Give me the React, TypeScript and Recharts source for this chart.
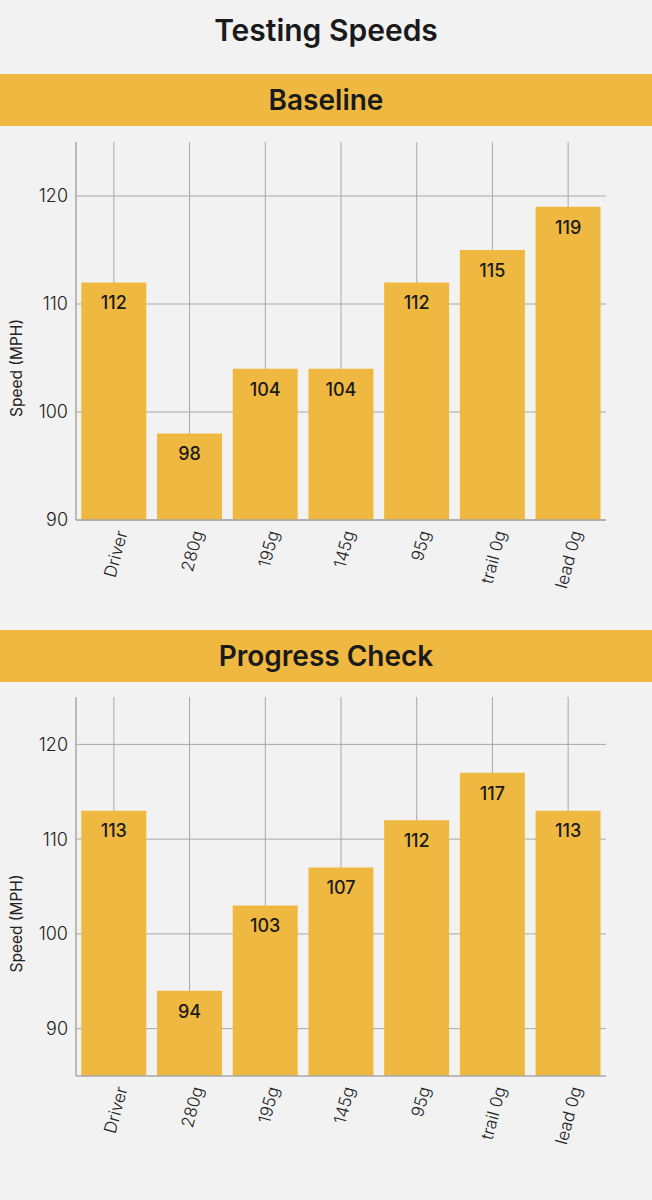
import React from 'react';
import { BarChart, Bar, XAxis, YAxis, CartesianGrid, LabelList } from 'recharts';

const categories = ['Driver', '280g', '195g', '145g', '95g', 'trail 0g', 'lead 0g'];
const baselineValues = [112, 98, 104, 104, 112, 115, 119];
const progressValues = [113, 94, 103, 107, 112, 117, 113];
const yTicks = [90, 100, 110, 120];

const BAR = '#EFB840';
const BG = '#F2F2F2';
const GRID = '#A8A8A8';
const FONT = 'Inter, "Noto Sans", sans-serif';

const baselineData = categories.map((c, i) => ({ name: c, value: baselineValues[i] }));
const progressData = categories.map((c, i) => ({ name: c, value: progressValues[i] }));

const XTick = (props: any) => {
  const { x, y, payload } = props;
  return (
    <g transform={`translate(${x + 8},${y + 3})`}>
      <text
        textAnchor="end"
        transform="rotate(-75)"
        dy="0.35em"
        fontFamily={FONT}
        fontSize={17}
        fontWeight={300}
        fill="#222"
      >
        {payload.value}
      </text>
    </g>
  );
};

const YLabel = (props: any) => {
  const { viewBox } = props;
  const cx = viewBox.x + 16;
  const cy = viewBox.y + viewBox.height / 2 + 37;
  return (
    <text
      x={cx}
      y={cy}
      transform={`rotate(-90, ${cx}, ${cy})`}
      textAnchor="middle"
      dominantBaseline="central"
      fontFamily={FONT}
      fontSize={15.5}
      fontWeight={400}
      fill="#222"
    >
      Speed (MPH)
    </text>
  );
};

const Band = ({ text }: { text: string }) => (
  <div
    style={{
      height: 52,
      background: BAR,
      textAlign: 'center',
      lineHeight: '52px',
      fontFamily: FONT,
      fontSize: 28,
      fontWeight: 600,
      color: '#1a1a1a',
    }}
  >
    {text}
  </div>
);

const SpeedChart = ({ data, domain, height, top, xHeight }: any) => (
  <BarChart
    width={652}
    height={height}
    data={data}
    margin={{ top, right: 46, bottom: 0, left: 0 }}
    barCategoryGap="7%"
  >
    <CartesianGrid stroke={GRID} strokeWidth={1} syncWithTicks />
    <XAxis
      dataKey="name"
      interval={0}
      tickLine={false}
      axisLine={{ stroke: GRID, strokeWidth: 1.5 }}
      height={xHeight}
      tick={<XTick />}
    />
    <YAxis
      width={76}
      domain={domain}
      ticks={yTicks}
      allowDataOverflow
      tickLine={false}
      axisLine={{ stroke: GRID, strokeWidth: 1.5 }}
      tick={{ fontFamily: FONT, fontSize: 18, fontWeight: 300, fill: '#222' }}
      label={<YLabel />}
    />
    <Bar dataKey="value" fill={BAR} isAnimationActive={false}>
      <LabelList
        dataKey="value"
        position="insideTop"
        offset={14}
        style={{ fontFamily: FONT, fontSize: 18, fontWeight: 500, fill: '#1a1a1a' }}
      />
    </Bar>
  </BarChart>
);

export default function App() {
  return (
    <div
      style={{
        position: 'absolute',
        left: 0,
        top: 0,
        width: 652,
        height: 1200,
        background: BG,
        overflow: 'hidden',
      }}
    >
      <div
        style={{
          height: 74,
          lineHeight: '60px',
          textAlign: 'center',
          fontFamily: FONT,
          fontSize: 30,
          fontWeight: 600,
          color: '#1a1a1a',
        }}
      >
        Testing Speeds
      </div>
      <Band text="Baseline" />
      <SpeedChart data={baselineData} domain={[90, 125]} height={504} top={16} xHeight={110} />
      <Band text="Progress Check" />
      <SpeedChart data={progressData} domain={[85, 125]} height={518} top={15} xHeight={124} />
    </div>
  );
}
